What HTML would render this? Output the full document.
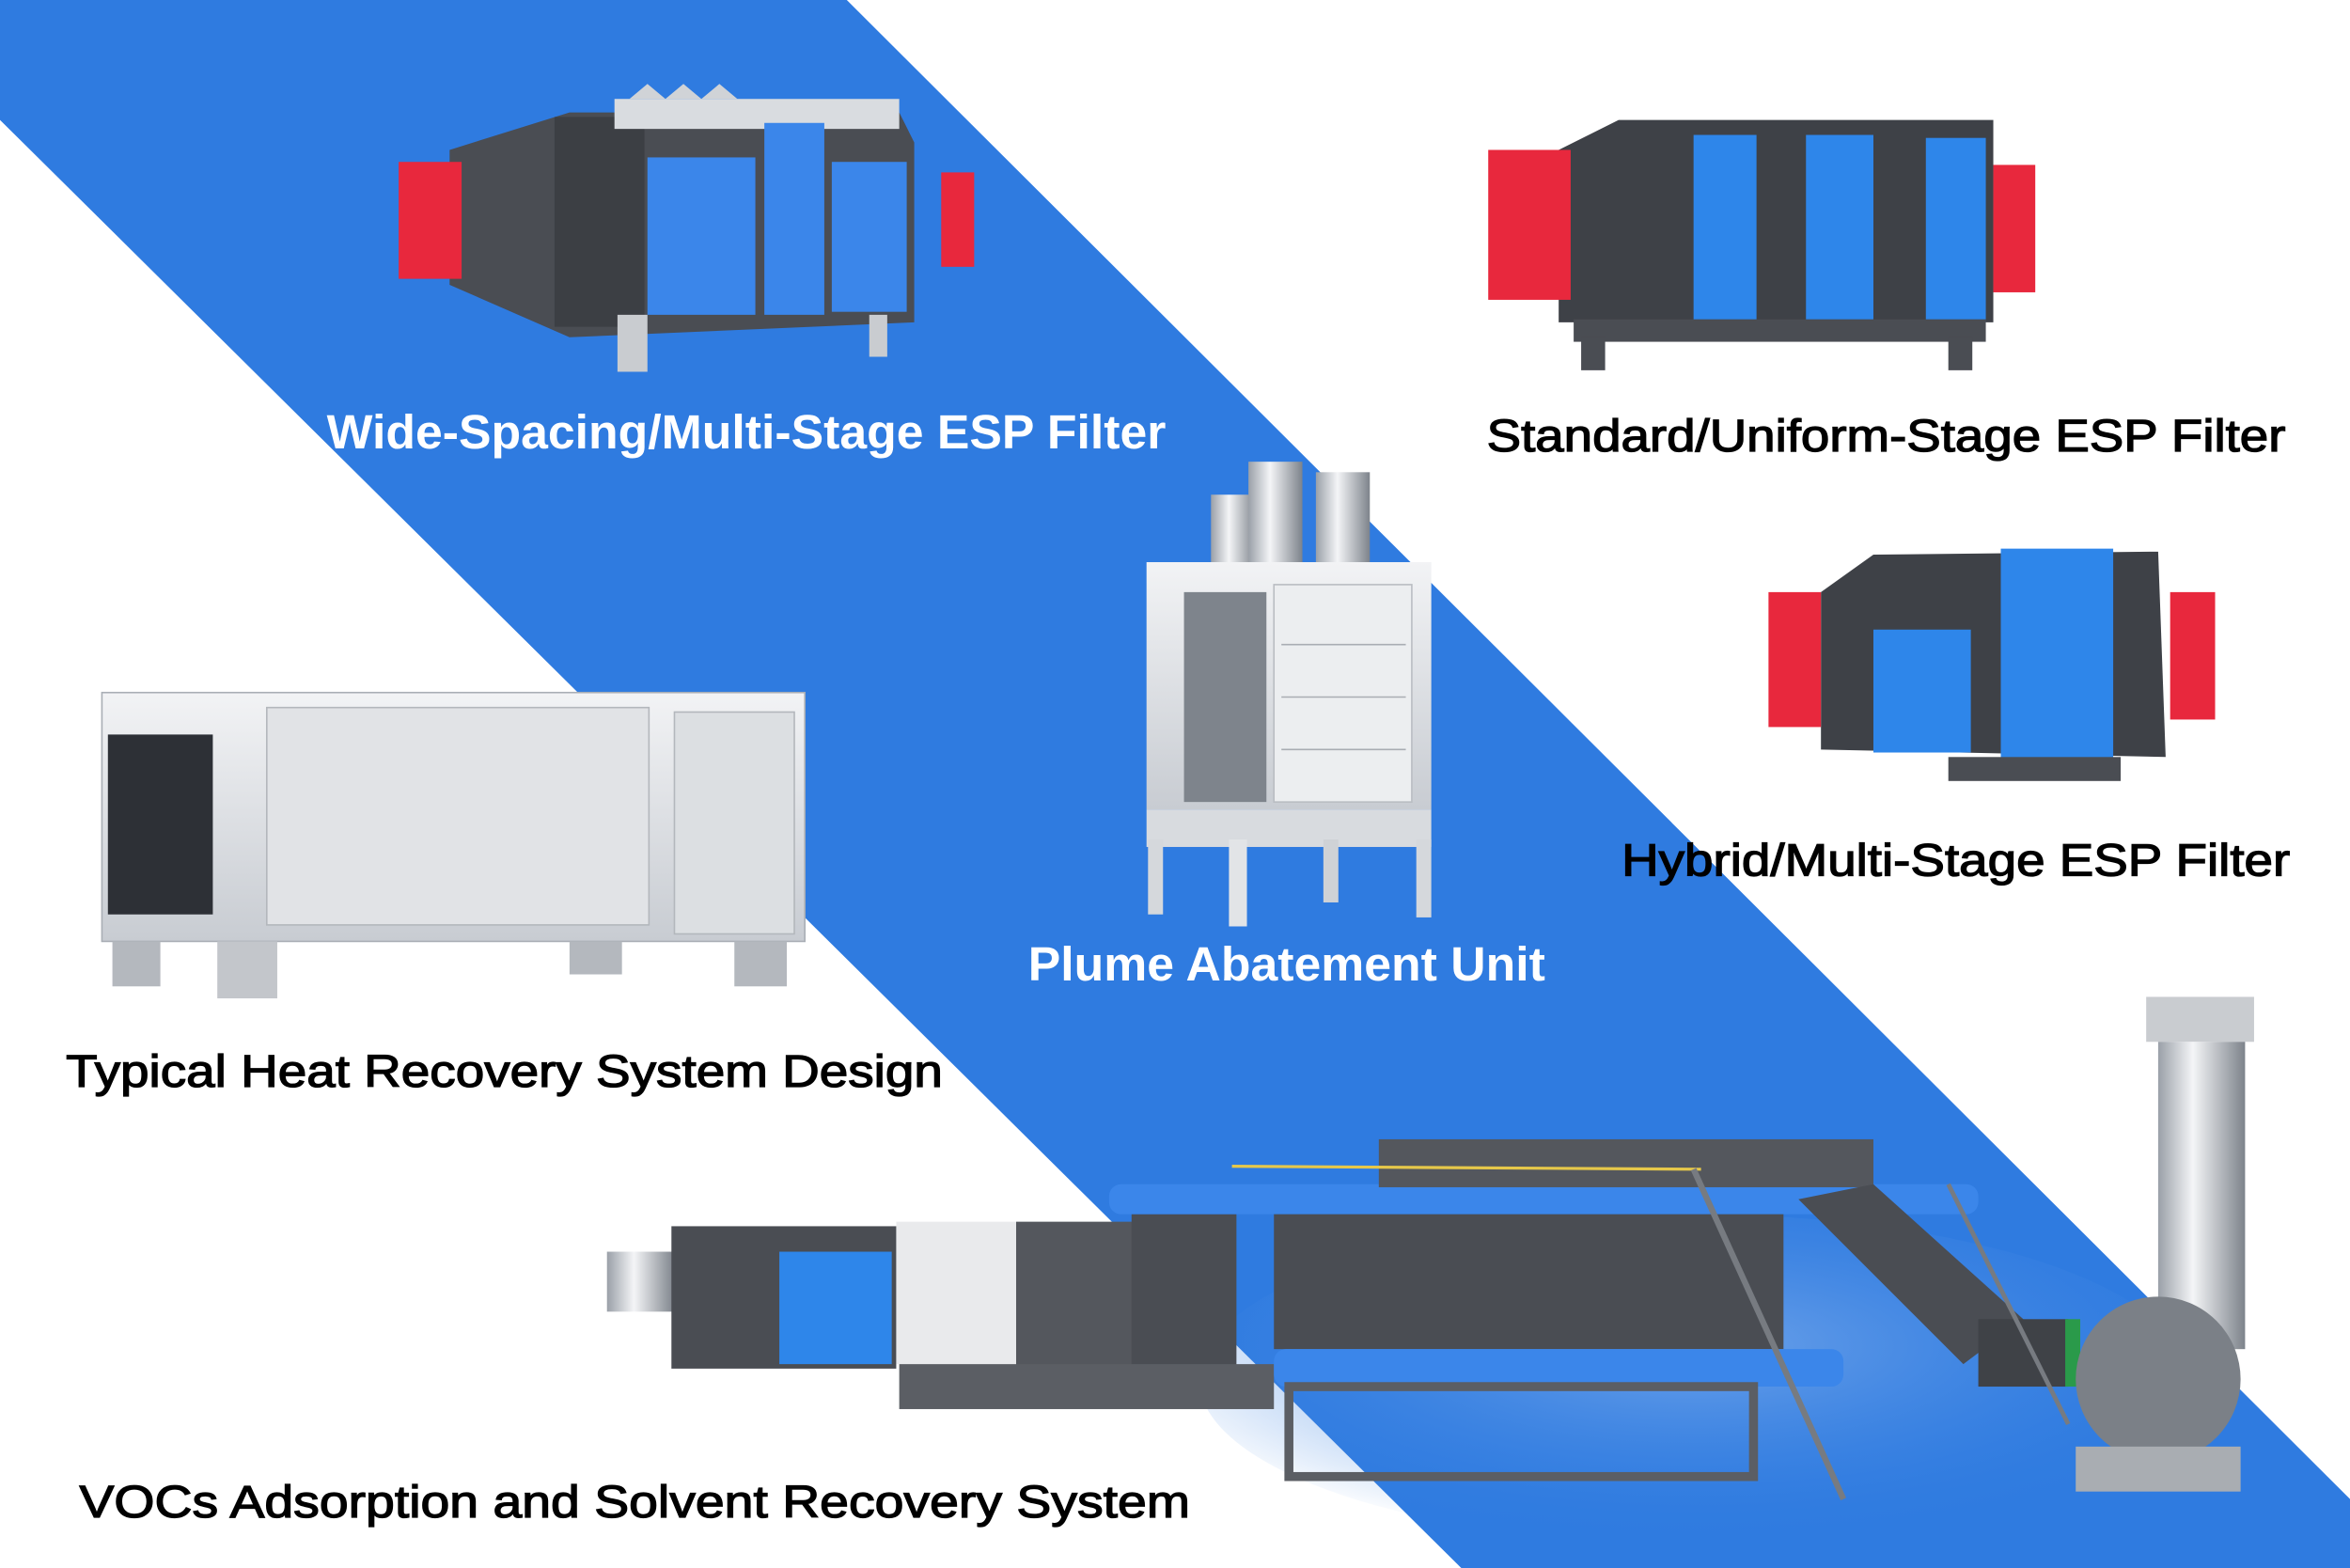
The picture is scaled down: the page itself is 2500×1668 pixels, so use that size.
<!DOCTYPE html>
<html><head><meta charset="utf-8"><style>
html,body{margin:0;padding:0;background:#fff;}
svg{display:block;}
text{font-family:"Liberation Sans",sans-serif;}
</style></head><body>
<svg width="2500" height="1668" viewBox="0 0 1568 1046" preserveAspectRatio="none" xmlns="http://www.w3.org/2000/svg">
<defs>
<linearGradient id="steel" x1="0" x2="0" y1="0" y2="1"><stop offset="0" stop-color="#f2f3f5"/><stop offset="1" stop-color="#c8ccd2"/></linearGradient>
<linearGradient id="pipe" x1="0" x2="1"><stop offset="0" stop-color="#9aa0a8"/><stop offset="0.4" stop-color="#f4f5f7"/><stop offset="1" stop-color="#7d838b"/></linearGradient>
<radialGradient id="floor" cx="0.5" cy="0.4" r="0.6"><stop offset="0" stop-color="#6ea3ea"/><stop offset="1" stop-color="#2f7be0" stop-opacity="0"/></radialGradient>
</defs>
<rect width="1568" height="1046" fill="#fff"/>
<polygon points="0,0 565,0 1568,1000 1568,1046 975,1046 0,80" fill="#2f7be0"/>
<ellipse cx="1130" cy="920" rx="330" ry="110" fill="url(#floor)"/>

<!-- Wide-spacing ESP -->
<g>
<polygon points="300,100 380,75 600,75 610,95 610,215 380,225 300,190" fill="#4a4d53"/>
<rect x="370" y="78" width="60" height="140" fill="#3c3f44"/>
<rect x="410" y="66" width="190" height="20" fill="#d9dce0"/>
<polygon points="420,66 432,56 444,66 456,56 468,66 480,56 492,66" fill="#d0d3d7"/>
<rect x="432" y="105" width="72" height="105" fill="#3b86ea"/>
<rect x="510" y="82" width="40" height="128" fill="#3b86ea"/>
<rect x="555" y="108" width="50" height="100" fill="#3b86ea"/>
<rect x="412" y="210" width="20" height="38" fill="#c9ccd0"/>
<rect x="580" y="210" width="12" height="28" fill="#c9ccd0"/>
<rect x="266" y="108" width="42" height="78" fill="#e8283d"/>
<rect x="628" y="115" width="22" height="63" fill="#e8283d"/>
</g>

<!-- Standard ESP -->
<g>
<polygon points="1040,100 1080,80 1330,80 1330,215 1040,215" fill="#3e4147"/>
<rect x="1130" y="90" width="42" height="125" fill="#2e86ea"/>
<rect x="1205" y="90" width="45" height="125" fill="#2e86ea"/>
<rect x="1285" y="92" width="40" height="123" fill="#2e86ea"/>
<rect x="1050" y="213" width="275" height="15" fill="#4a4d53"/>
<rect x="1055" y="225" width="16" height="22" fill="#4a4d53"/>
<rect x="1300" y="225" width="16" height="22" fill="#4a4d53"/>
<rect x="993" y="100" width="55" height="100" fill="#e8283d"/>
<rect x="1330" y="110" width="28" height="85" fill="#e8283d"/>
</g>

<!-- Hybrid ESP -->
<g>
<polygon points="1215,395 1250,370 1440,368 1445,505 1215,500" fill="#3e4147"/>
<rect x="1335" y="366" width="75" height="140" fill="#2e86ea"/>
<rect x="1250" y="420" width="65" height="82" fill="#2e86ea"/>
<rect x="1300" y="505" width="115" height="16" fill="#4a4d53"/>
<rect x="1180" y="395" width="35" height="90" fill="#e8283d"/>
<rect x="1448" y="395" width="30" height="85" fill="#e8283d"/>
</g>

<!-- Plume -->
<g>
<rect x="808" y="330" width="30" height="50" fill="url(#pipe)"/>
<rect x="833" y="308" width="36" height="70" fill="url(#pipe)"/>
<rect x="878" y="315" width="36" height="62" fill="url(#pipe)"/>
<rect x="765" y="375" width="190" height="165" fill="url(#steel)"/>
<rect x="790" y="395" width="55" height="140" fill="#7e848c"/>
<rect x="850" y="390" width="92" height="145" fill="#eceef0" stroke="#b9bdc2"/>
<line x1="855" y1="430" x2="938" y2="430" stroke="#a9adb3"/>
<line x1="855" y1="465" x2="938" y2="465" stroke="#a9adb3"/>
<line x1="855" y1="500" x2="938" y2="500" stroke="#a9adb3"/>
<rect x="765" y="540" width="190" height="25" fill="#d8dbdf"/>
<rect x="766" y="560" width="10" height="50" fill="#d5d8dc"/>
<rect x="820" y="560" width="12" height="58" fill="#e2e4e7"/>
<rect x="883" y="560" width="10" height="42" fill="#cfd2d6"/>
<rect x="945" y="560" width="10" height="52" fill="#d5d8dc"/>
</g>

<!-- Heat recovery -->
<g>
<rect x="68" y="462" width="469" height="166" fill="url(#steel)" stroke="#a9aeb5"/>
<rect x="72" y="490" width="70" height="120" fill="#2d3036"/>
<rect x="178" y="472" width="255" height="145" fill="#e1e3e6" stroke="#b3b7bc"/>
<rect x="450" y="475" width="80" height="148" fill="#dcdfe2" stroke="#b3b7bc"/>
<rect x="75" y="628" width="32" height="30" fill="#b4b8be"/>
<rect x="145" y="628" width="40" height="38" fill="#c3c6cb"/>
<rect x="380" y="628" width="35" height="22" fill="#b4b8be"/>
<rect x="490" y="628" width="35" height="30" fill="#b4b8be"/>
</g>

<!-- VOCs system -->
<g>
<rect x="1432" y="665" width="72" height="30" fill="#c9ccd0"/>
<rect x="1440" y="695" width="58" height="205" fill="url(#pipe)"/>
<rect x="405" y="835" width="45" height="40" fill="url(#pipe)"/>
<rect x="448" y="818" width="150" height="95" fill="#4a4d53"/>
<rect x="520" y="835" width="75" height="75" fill="#2e86ea"/>
<rect x="598" y="815" width="80" height="95" fill="#e9eaec"/>
<rect x="678" y="815" width="80" height="110" fill="#54575d"/>
<rect x="755" y="810" width="70" height="120" fill="#4a4d53"/>
<rect x="600" y="910" width="250" height="30" fill="#5b5e64"/>
<rect x="740" y="790" width="580" height="20" rx="8" fill="#3b86ea"/>
<rect x="920" y="760" width="330" height="32" fill="#54575d"/>
<rect x="850" y="810" width="340" height="90" fill="#4a4d53"/>
<rect x="850" y="900" width="380" height="25" rx="8" fill="#3b86ea"/>
<rect x="860" y="925" width="310" height="60" fill="none" stroke="#5b5e64" stroke-width="6"/>
<line x1="822" y1="778" x2="1135" y2="780" stroke="#e6c84a" stroke-width="2"/>
<polygon points="1200,800 1250,790 1350,880 1310,910" fill="#4a4d53"/>
<rect x="1320" y="880" width="60" height="45" fill="#3f4247"/>
<rect x="1378" y="880" width="10" height="45" fill="#2a9a4a"/>
<circle cx="1440" cy="920" r="55" fill="#7b8087"/>
<rect x="1385" y="965" width="110" height="30" fill="#a9adb2"/>
<line x1="1130" y1="780" x2="1230" y2="1000" stroke="#777b81" stroke-width="4"/>
<line x1="1300" y1="790" x2="1380" y2="950" stroke="#777b81" stroke-width="3"/>
</g>

<!-- Labels -->
<text x="218" y="299" font-size="32" font-weight="bold" fill="#fff" textLength="560" lengthAdjust="spacingAndGlyphs">Wide-Spacing/Multi-Stage ESP Filter</text>
<text x="992" y="301" font-size="30" fill="#000" stroke="#000" stroke-width="0.8" textLength="533" lengthAdjust="spacingAndGlyphs">Standard/Uniform-Stage ESP Filter</text>
<text x="1082" y="584" font-size="30" fill="#000" stroke="#000" stroke-width="0.8" textLength="446" lengthAdjust="spacingAndGlyphs">Hybrid/Multi-Stage ESP Filter</text>
<text x="686" y="654" font-size="32" font-weight="bold" fill="#fff" textLength="345" lengthAdjust="spacingAndGlyphs">Plume Abatement Unit</text>
<text x="44" y="725" font-size="30" fill="#000" stroke="#000" stroke-width="0.8" textLength="585" lengthAdjust="spacingAndGlyphs">Typical Heat Recovery System Design</text>
<text x="53" y="1012" font-size="30" fill="#000" stroke="#000" stroke-width="0.8" textLength="741" lengthAdjust="spacingAndGlyphs">VOCs Adsorption and Solvent Recovery System</text>
</svg>
</body></html>
